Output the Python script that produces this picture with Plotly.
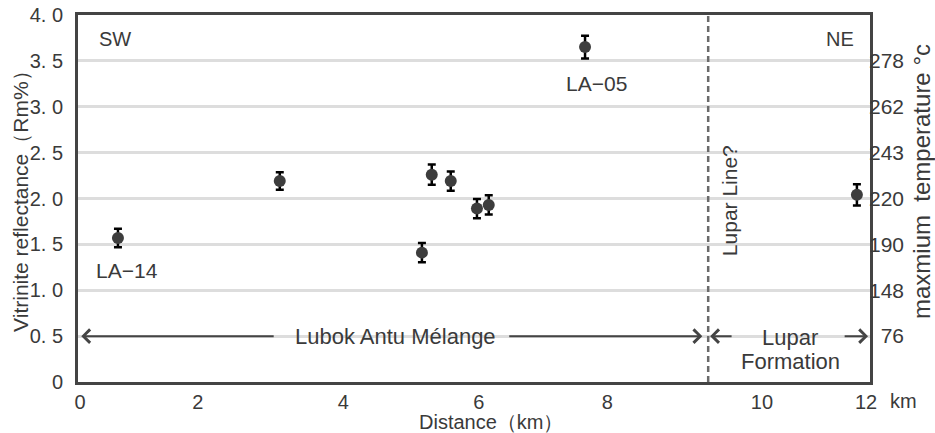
import plotly.graph_objects as go

# ---- data (x in km, linear frame; y = vitrinite reflectance Rm%) ----
distance_km = [0.58, 3.05, 5.22, 5.37, 5.66, 6.06, 6.24, 7.71, 11.86]
reflectance = [1.57, 2.19, 1.41, 2.26, 2.19, 1.89, 1.93, 3.65, 2.04]
refl_error = [0.10, 0.095, 0.105, 0.11, 0.105, 0.105, 0.105, 0.125, 0.115]

x_tick_pos = [0, 1.80, 4.02, 6.09, 8.05, 10.41, 12.0]
x_tick_text = ["0", "2", "4", "6", "8", "10", "12"]

y_tick_vals = [0, 0.5, 1.0, 1.5, 2.0, 2.5, 3.0, 3.5, 4.0]
y_tick_text = ["0", "0. 5", "1. 0", "1. 5", "2. 0", "2. 5", "3. 0", "3. 5", "4. 0"]

temp_tick_vals = [0.5, 1.0, 1.5, 2.0, 2.5, 3.0, 3.5]
temp_tick_text = ["\u200776", "148", "190", "220", "243", "262", "278"]

lupar_line_x = 9.59

FONT = "Liberation Sans, Arial, sans-serif"
TXT = "#3a3a3a"

fig = go.Figure()
fig.add_trace(go.Scatter(
    x=distance_km, y=reflectance, mode="markers",
    marker=dict(size=12, color="#3d3d3d"),
    error_y=dict(type="data", array=refl_error, visible=True,
                 color="#000000", thickness=2.5, width=4),
    showlegend=False, cliponaxis=False,
))
# empty trace so that the temperature axis is drawn
fig.add_trace(go.Scatter(x=[], y=[], yaxis="y2", showlegend=False, hoverinfo="skip"))

fig.add_shape(type="line", x0=lupar_line_x, x1=lupar_line_x, y0=0, y1=4,
              xref="x", yref="y",
              line=dict(color="#6a6a6a", width=2.5, dash="6px,4px"))

ann = []
def txt(x, y, s, size, xanchor="center", yanchor="middle", xref="x", yref="y", angle=0):
    ann.append(dict(x=x, y=y, xref=xref, yref=yref, text=s, showarrow=False,
                    xanchor=xanchor, yanchor=yanchor, textangle=angle,
                    font=dict(family=FONT, size=size, color=TXT)))

def arrow(x_tail, x_head, y):
    ann.append(dict(x=x_head, y=y, ax=x_tail, ay=y, xref="x", yref="y",
                    axref="x", ayref="y", text="", showarrow=True,
                    arrowhead=4, arrowsize=1.3, arrowwidth=2, arrowcolor="#444444",
                    standoff=0))

txt(0.26, 3.74, "SW", 20, xanchor="left")
txt(11.85, 3.74, "NE", 20, xanchor="right")
txt(0.72, 1.215, "LA\u221214", 21)
txt(7.88, 3.25, "LA\u221205", 21)
txt(4.82, 0.5, "Lubok Antu Mélange", 22)
txt(10.84, 0.49, "Lupar", 22)
txt(10.84, 0.22, "Formation", 22)
txt(9.92, 1.98, "Lupar Line?", 21, angle=-90)

arrow(2.98, 0.02, 0.5)
arrow(6.53, 9.50, 0.5)
arrow(9.97, 9.62, 0.5)
arrow(11.65, 12.03, 0.5)

# axis titles
txt(-0.072, 0.507, "Vitrinite reflectance（Rm%）", 21, xref="paper", yref="paper", angle=-90)
txt(1.0657, 0.545, "maxmium  temperature °c", 24, xref="paper", yref="paper", angle=-90)
txt(0.5215, -0.109, "Distance（km）", 20, xref="paper", yref="paper")
txt(1.0417, -0.052, "km", 20, xref="paper", yref="paper")

fig.update_layout(
    width=935, height=433,
    margin=dict(l=78, r=65, t=15, b=51, pad=0),
    plot_bgcolor="white", paper_bgcolor="white",
    font=dict(family=FONT, size=20, color=TXT),
    annotations=ann,
    xaxis=dict(range=[-0.03, 12.06], tickvals=x_tick_pos, ticktext=x_tick_text,
               showgrid=False, zeroline=False, showline=True, mirror=True,
               linecolor="#444444", linewidth=3, ticks="", automargin=False,
               ticklabelstandoff=0,
               tickfont=dict(family=FONT, size=20, color=TXT)),
    yaxis=dict(range=[0, 4], tickvals=y_tick_vals, ticktext=y_tick_text,
               showgrid=True, gridcolor="#dddddd", gridwidth=2.5,
               zeroline=False, showline=True, mirror=True, automargin=False,
               linecolor="#444444", linewidth=3, ticks="",
               ticklabelstandoff=8,
               tickfont=dict(family=FONT, size=20, color=TXT)),
    yaxis2=dict(range=[0, 4], overlaying="y", side="right", automargin=False,
                tickvals=temp_tick_vals, ticktext=temp_tick_text,
                showgrid=False, zeroline=False, showline=False, ticks="",
                ticklabelstandoff=-2,
                tickfont=dict(family=FONT, size=21, color=TXT)),
)

fig.write_html("out.html", config={"displayModeBar": False},
               post_script="document.body.style.margin='0';document.body.style.overflow='hidden';")
